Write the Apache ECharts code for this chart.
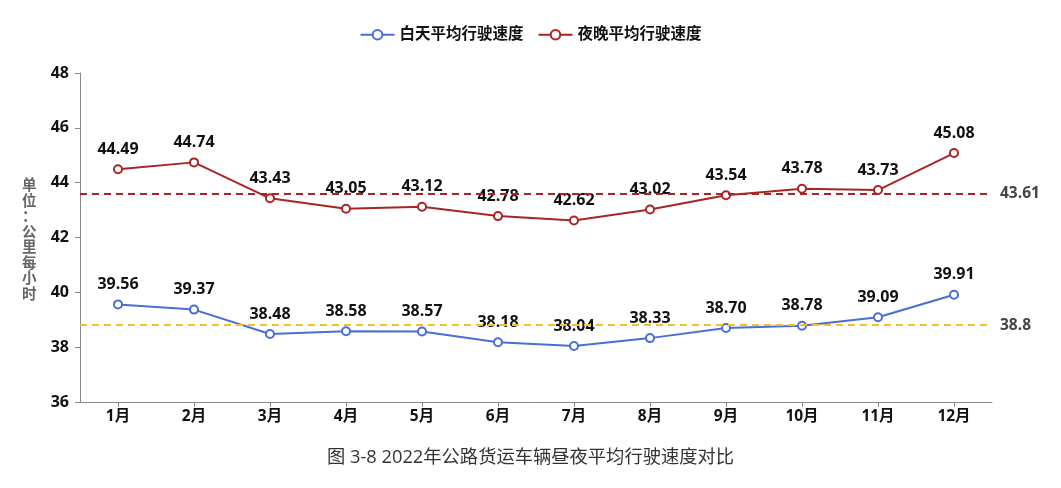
<!DOCTYPE html>
<html><head><meta charset="utf-8">
<script src="https://cdn.jsdelivr.net/npm/echarts@6/dist/echarts.min.js"></script>
<style>html,body{margin:0;padding:0;background:#fff}#c{width:1061px;height:488px}</style>
</head><body><div id="c"></div>
<script>
const categories = ['1月','2月','3月','4月','5月','6月','7月','8月','9月','10月','11月','12月'];
const daySpeed = [39.56,39.37,38.48,38.58,38.57,38.18,38.04,38.33,38.70,38.78,39.09,39.91];
const nightSpeed = [44.49,44.74,43.43,43.05,43.12,42.78,42.62,43.02,43.54,43.78,43.73,45.08];
const dayAvg = 38.8;
const nightAvg = 43.61;
const yTicks = {min:36, max:48, interval:2};
const seriesNames = ['白天平均行驶速度','夜晚平均行驶速度'];
const yUnit = '单位：公里每小时';
const caption = '图 3-8 2022年公路货运车辆昼夜平均行驶速度对比';

const font = '"Open Sans","Noto Sans CJK SC",sans-serif';
const chart = echarts.init(document.getElementById('c'));
const labelStyle = {show:true, position:'top', distance:7, color:'#111', fontWeight:'bold', fontSize:16, fontFamily:font,
  formatter: p => p.value.toFixed(2)};
function mkLine(val, color, labelText){
  return {silent:true, symbol:'none',
    lineStyle:{type:[7,5], width:2, color:color},
    label:{show:true, position:'end', distance:8, color:'#444', fontWeight:'bold', fontSize:15.5, fontFamily:font, formatter: labelText},
    data:[{yAxis:val}]};
}
chart.setOption({
  textStyle:{fontFamily:font},
  legend:{top:22, left:'center', itemWidth:34, itemHeight:12, itemGap:14,
    textStyle:{fontWeight:'bold', fontSize:15.5, color:'#111', fontFamily:font},
    data:seriesNames},
  grid:{left:80, right:69, top:73, bottom:86, containLabel:false},
  xAxis:{type:'category', data:categories, boundaryGap:true,
    axisLine:{lineStyle:{color:'#888'}},
    axisTick:{show:true, alignWithLabel:true, length:5, lineStyle:{color:'#888'}},
    axisLabel:{color:'#111', fontWeight:'bold', fontSize:15.5, margin:7, fontFamily:font}},
  yAxis:{type:'value', min:yTicks.min, max:yTicks.max, interval:yTicks.interval,
    splitLine:{show:false},
    axisLine:{show:true, lineStyle:{color:'#888'}},
    axisTick:{show:true, length:5, lineStyle:{color:'#888'}},
    axisLabel:{color:'#111', fontWeight:'bold', fontSize:16, margin:11, fontFamily:font}},
  graphic:[
    {type:'text', left:22, top:177, style:{text:yUnit.split('').join('\n'), fill:'#666', font:'bold 14.5px "Noto Sans CJK SC",sans-serif', lineHeight:15.5}},
    {type:'text', left:'center', top:449, style:{text:caption, fill:'#333', font:'18.3px '+font}}
  ],
  series:[
    {name:seriesNames[0], type:'line', data:daySpeed, symbol:'emptyCircle', symbolSize:8,
      itemStyle:{color:'#4a6ed6', borderWidth:1.5}, lineStyle:{width:2, color:'#4a6ed6'},
      label:labelStyle, markLine:mkLine(dayAvg, '#f2bf2e', String(dayAvg))},
    {name:seriesNames[1], type:'line', data:nightSpeed, symbol:'emptyCircle', symbolSize:8,
      itemStyle:{color:'#a82526', borderWidth:1.5}, lineStyle:{width:2, color:'#a82526'},
      label:labelStyle, markLine:mkLine(nightAvg, '#a82526', String(nightAvg))}
  ]
});
</script></body></html>
